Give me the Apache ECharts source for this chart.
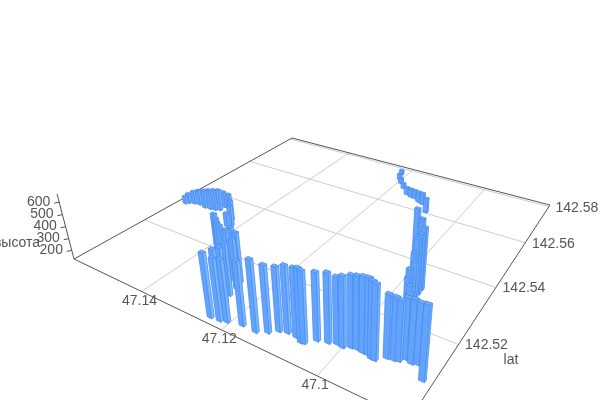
<!DOCTYPE html>
<html><head><meta charset="utf-8"><style>html,body{margin:0;padding:0;background:#fff}#c{width:600px;height:400px}</style>
<script src="https://cdn.jsdelivr.net/npm/echarts@6/dist/echarts.min.js"></script></head><body><div id="c"></div>
<script>
// Track: longitude, latitude and height of each bar.
const lon=[47.1578,47.1573,47.1560,47.1546,47.1525,47.1510,47.1497,47.1487,47.1488,47.1460,47.1432,47.1418,47.1424,47.1344,47.1330,47.1314,47.1303,47.1284,47.1286,47.1263,47.1254,47.1253,47.1246,47.1242,47.1239,
47.1219,47.1206,47.1177,47.1147,47.1128,47.1114,47.1099,47.1080,47.1066,47.1061,47.1046,47.1027,47.1013,47.1001,47.0989,47.0979,47.0967,47.0957,47.0948,47.0942,47.0927,47.0915,47.0908,47.0901,47.0888,
47.0879,47.0857,47.0914,47.0925,47.0935,47.0945,47.0949,47.0959,47.0959,47.0958,47.0959,47.0984,47.1014,47.1076,47.1099,47.1112,47.1127,47.1139,47.1153,47.1174,47.1192,47.1205,47.1214];
const lat=[142.5316,142.5323,142.5328,142.5331,142.5327,142.5329,142.5332,142.5338,142.5356,142.5342,142.5314,142.5296,142.5288,142.5165,142.5154,142.5140,142.5134,142.5129,142.5146,142.5133,142.5112,142.5088,142.5066,142.5045,142.5017,
142.5019,142.5024,142.5032,142.5031,142.5042,142.5056,142.5061,142.5060,142.5053,142.5055,142.5073,142.5079,142.5085,142.5083,142.5091,142.5093,142.5091,142.5091,142.5086,142.5086,142.5102,142.5104,142.5107,142.5117,142.5113,
142.5117,142.5087,142.5153,142.5178,142.5192,142.5220,142.5252,142.5271,142.5284,142.5296,142.5313,142.5361,142.5407,142.5606,142.5639,142.5645,142.5657,142.5659,142.5666,142.5692,142.5715,142.5735,142.5766];
const alt=[192,212,240,259,287,305,314,314,268,295,310,308,244,528,525,537,535,532,519,531,527,538,556,589,620,
603,603,615,667,631,611,631,642,673,659,633,643,622,648,655,660,677,681,683,673,590,584,566,573,590,
573,662,499,489,506,497,479,505,582,599,618,575,547,257,231,222,203,203,194,175,175,176,166];
const lonTicks=[47.14,47.12,47.1],latTicks=[142.52,142.54,142.56,142.58],altTicks=[200,300,400,500,600];
const xName='lat',zName='высота';
const lonMin=47.084,lonMax=47.16,latMin=142.5,latMax=142.581,altMin=124,altMax=665;
// Camera: perspective matrix of the 3D box (unit cube -> screen).
const a=214.7,b=352.1,c0=74,d=37.5,e=-57.6,f=259,g=-0.2941,h=0.4592,k=-0.0582,Vx=349,Vy=1312;
const linMap=echarts.number.linearMap;
function proj(u,v,z){const W=g*u+h*v+1+k*z;return [(a*u+b*v+c0+k*Vx*z)/W,(d*u+e*v+f+k*Vy*z)/W];}
function unit(api,lo,la){const p=api.coord([lo,la]);return [p[0]/600,1-p[1]/400];}
const zU=v=>linMap(v,[altMin,altMax],[0,1]);
const depth=i=>g*linMap(lon[i],[lonMax,lonMin],[0,1])+h*linMap(lat[i],[latMin,latMax],[0,1]);
const order=lon.map((_,i)=>i).sort((p,q)=>depth(q)-depth(p));
const barData=order.map(i=>[lon[i],lat[i],alt[i]]);
const SU=0.0068,SV=0.0045;
const FR='#79b9ff',FL='#62a4fd',FT='#6dadfd',ST='#4d8cf0';
function poly(pts,fill){return {type:'polygon',shape:{points:pts},style:{fill:fill,stroke:ST,lineWidth:0.8,lineJoin:'round'}};}
const grey='#ccc',dark='#555',txt='#555';
function line(p,q,col,w){return {type:'line',shape:{x1:p[0],y1:p[1],x2:q[0],y2:q[1]},style:{stroke:col,lineWidth:w||1},silent:true};}
function label(x,y,s,sz,al){return {type:'text',x:x,y:y,style:{text:s,fill:txt,font:(sz||14)+'px "Liberation Sans", Arial, sans-serif',align:al||'center',verticalAlign:'middle'}};}
const opt={animation:false,
 grid:{left:0,right:0,top:0,bottom:0},
 xAxis:{type:'value',min:lonMin,max:lonMax,inverse:true,show:false},
 yAxis:{type:'value',min:latMin,max:latMax,show:false},
 series:[
 {type:'custom',clip:false,silent:true,data:lonTicks.map(t=>[t,latMin]),renderItem(p,api){const lo=api.value(0);const s=unit(api,lo,latMin);const P=proj(s[0],0,0);
   return {type:'group',children:[line(P,proj(s[0],1,0),grey),label(P[0]-2,P[1]+9.5,String(lo))]};}},
 {type:'custom',clip:false,silent:true,data:latTicks.map(t=>[lonMax,t]),renderItem(p,api){const la=api.value(1);const s=unit(api,lonMax,la);const P=proj(1,s[1],0);
   return {type:'group',children:[line(P,proj(0,s[1],0),grey),label(P[0]+28,P[1]+1,String(la))]};}},
 {type:'custom',clip:false,silent:true,data:altTicks.map(t=>[lonMax,latMin,t]),renderItem(p,api){const al=api.value(2);const P=proj(0,0,zU(al));
   return {type:'group',children:[line(P,[P[0]-5,P[1]+1],dark),label(P[0]-20.5,P[1]-0.5,String(al))]};}},
 {type:'custom',clip:false,silent:true,data:[[lonMax,latMin]],renderItem(){const L=proj(0,0,0),F=proj(1,0,0),R=proj(1,1,0),A=proj(0,1,0),T=proj(0,0,1);
   return {type:'group',children:[line(L,F,dark),line(F,R,dark),line(R,A,dark),line(A,L,dark),line(L,T,dark),label(511,360,xName,14),label(17,243,zName,14)]};}},
 {type:'custom',clip:false,silent:true,data:barData,renderItem(p,api){const s=unit(api,api.value(0),api.value(1)),u=s[0],v=s[1],z=zU(api.value(2));
   const c=(du,dv,zz)=>proj(u+du*SU,v+dv*SV,zz);
   return {type:'group',children:[
    poly([c(-1,-1,0),c(1,-1,0),c(1,-1,z),c(-1,-1,z)],FL),
    poly([c(1,-1,0),c(1,1,0),c(1,1,z),c(1,-1,z)],FR),
    poly([c(-1,-1,z),c(1,-1,z),c(1,1,z),c(-1,1,z)],FT)]};}}
 ]};
const chart=echarts.init(document.getElementById('c'),null,{renderer:'canvas'});chart.setOption(opt);
</script></body></html>
